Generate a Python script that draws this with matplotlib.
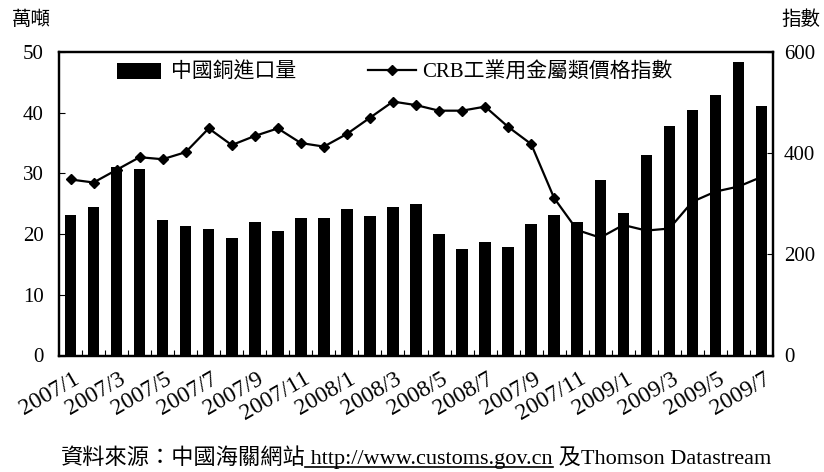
import matplotlib
matplotlib.use('Agg')
import matplotlib.pyplot as plt
from matplotlib import transforms
from matplotlib.lines import Line2D

plt.rcParams['font.family'] = ['Liberation Serif', 'Noto Sans CJK TC']

# ---- data ----
months = ['2007/1', '2007/2', '2007/3', '2007/4', '2007/5', '2007/6', '2007/7', '2007/8',
          '2007/9', '2007/10', '2007/11', '2007/12', '2008/1', '2008/2', '2008/3', '2008/4',
          '2008/5', '2008/6', '2008/7', '2008/8', '2008/9', '2008/10', '2008/11', '2008/12',
          '2009/1', '2009/2', '2009/3', '2009/4', '2009/5', '2009/6', '2009/7']
copper_imports = [23.2, 24.4, 31.0, 30.7, 22.4, 21.4, 20.8, 19.3, 22.0, 20.5, 22.6, 22.6,
                  24.1, 23.0, 24.5, 25.0, 20.0, 17.6, 18.7, 17.9, 21.7, 23.1, 22.0, 28.9,
                  23.4, 33.1, 37.8, 40.5, 42.9, 48.3, 41.1]
crb_index = [348, 342, 367, 392, 388, 402, 449, 416, 434, 449, 420, 413, 438, 470, 502, 495,
             484, 484, 492, 452, 418, 311, 248, 233, 258, 247, 251, 304, 324, 334, 353]
tick_labels = ['2007/1', '2007/3', '2007/5', '2007/7', '2007/9', '2007/11', '2008/1', '2008/3',
               '2008/5', '2008/7', '2007/9', '2007/11', '2009/1', '2009/3', '2009/5', '2009/7']
left_ticks = [0, 10, 20, 30, 40, 50]
right_ticks = [0, 200, 400, 600]
bar_label = '中國銅進口量'
line_label = 'CRB工業用金屬類價格指數'
left_unit = '萬噸'
right_unit = '指數'
source_parts = ['資料來源：中國海關網站', ' http://www.customs.gov.cn', ' 及Thomson Datastream']

FS = 15
W, H = 824, 472
fig = plt.figure(figsize=(W / 100, H / 100), dpi=100)
ax = fig.add_axes([59 / W, 1 - 355.5 / H, (773 - 59) / W, (355.5 - 52) / H])
ax2 = ax.twinx()

x = list(range(len(months)))
bars = ax.bar(x, copper_imports, width=0.5, color='black', zorder=3)
line, = ax2.plot(x, crb_index, color='black', lw=1.6, marker='D', markersize=5.5,
                 markerfacecolor='black', markeredgecolor='black')

# bars in front of the line
ax.set_zorder(ax2.get_zorder() + 1)
ax.patch.set_visible(False)

ax.set_xlim(-0.5, len(months) - 0.5)
ax.set_ylim(0, 50)
ax2.set_ylim(0, 600)
ax.set_yticks(left_ticks)
ax2.set_yticks(right_ticks)

ax.set_xticks(x[::2])
ax.set_xticklabels(tick_labels, rotation=30, ha='right', va='top', rotation_mode='anchor',
                   fontsize=17)
ax.set_xticks([i + 0.5 for i in range(len(months) - 1)], minor=True)
ax.tick_params(axis='x', which='major', length=0, pad=9)
ax.tick_params(axis='x', which='minor', direction='in', length=4, width=0.8)
ax.tick_params(axis='y', direction='in', length=4, width=0.8, labelsize=FS, pad=11)
ax2.tick_params(axis='y', direction='in', length=4, width=0.8, labelsize=FS, pad=8)
ax2.tick_params(axis='x', length=0)
off = transforms.ScaledTranslation(2 / 100, 0, fig.dpi_scale_trans)
for lab in ax.get_xticklabels():
    lab.set_transform(lab.get_transform() + off)

for a in (ax, ax2):
    for s in a.spines.values():
        s.set_linewidth(1.6)
        s.set_color('black')

# legends
leg1 = ax.legend([bars], [bar_label], loc='upper left', bbox_to_anchor=(0.081, 0.965),
                 frameon=False, fontsize=FS, borderpad=0, borderaxespad=0,
                 handlelength=2.1, handleheight=0.8, handletextpad=0.5)
ax.add_artist(leg1)
ax.legend([line], [line_label], loc='upper left', bbox_to_anchor=(0.433, 0.965),
          frameon=False, fontsize=FS, borderpad=0, borderaxespad=0,
          handlelength=2.3, handletextpad=0.3)

# unit labels
fig.text(31 / W, 1 - 20 / H, left_unit, fontsize=FS - 1, ha='center', va='center')
fig.text(801 / W, 1 - 20 / H, right_unit, fontsize=FS - 1, ha='center', va='center')

# source line with underlined URL
fig.canvas.draw()
r = fig.canvas.get_renderer()
ybase = 1 - 464 / H
texts = [fig.text(0, ybase, p, fontsize=16, va='baseline', ha='left') for p in source_parts]
widths = [t.get_window_extent(r).width for t in texts]
xpix = (W - sum(widths)) / 2 + 4
for i, t in enumerate(texts):
    t.set_x(xpix / W)
    if i == 1:
        fig.add_artist(Line2D([xpix / W, (xpix + widths[i]) / W],
                              [ybase - 3 / H, ybase - 3 / H], color='black', lw=1.2,
                              transform=fig.transFigure))
    xpix += widths[i]

fig.savefig('out.png', dpi=100)
